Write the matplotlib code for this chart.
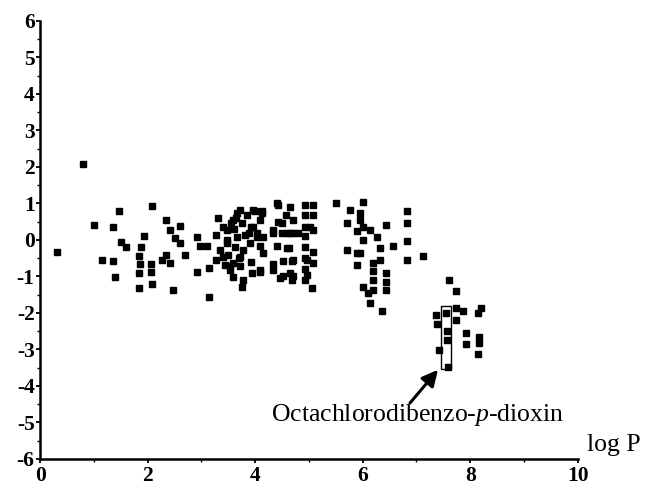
import matplotlib.pyplot as plt
from matplotlib.patches import Rectangle

plt.rcParams['font.family'] = 'Liberation Serif'
plt.rcParams['mathtext.fontset'] = 'custom'
plt.rcParams['mathtext.rm'] = 'Liberation Serif'
plt.rcParams['mathtext.it'] = 'Liberation Serif:italic'
plt.rcParams['axes.unicode_minus'] = False

# compounds (x = log P, y = response)
logp_low = [0.31, 0.79, 1.01, 1.15, 1.36, 1.36, 1.39, 1.47, 1.51, 1.59,
            1.83, 1.83, 1.84, 1.86, 1.88, 1.94, 2.06, 2.06, 2.08, 2.08,
            2.26, 2.34, 2.35, 2.42, 2.42, 2.48, 2.51, 2.60, 2.60, 2.70,
            2.91, 2.91, 2.97, 3.10, 3.15, 3.15]
y_low = [-0.34, 2.08, 0.40, -0.55, 0.35, -0.58, -1.01, 0.80, -0.07, -0.20,
         -0.44, -0.91, -1.31, -0.67, -0.21, 0.11, -0.67, -0.88, 0.94, -1.21,
         -0.55, 0.55, -0.41, 0.27, -0.64, -1.37, 0.05, 0.39, -0.09, -0.41,
         0.09, -0.87, -0.18, -0.16, -0.76, -1.57]

logp_mid = [3.28, 3.28, 3.31, 3.35, 3.41, 3.41, 3.44, 3.47, 3.47, 3.47,
            3.50, 3.53, 3.53, 3.59, 3.59, 3.59, 3.60, 3.62, 3.66, 3.66,
            3.72, 3.72, 3.72, 3.75, 3.75, 3.78, 3.78, 3.81, 3.84, 3.90,
            3.92, 3.93, 3.96, 3.96, 4.00, 4.03, 4.03, 4.09, 4.09, 4.09,
            4.09, 4.12, 4.13, 4.15, 4.15, 3.65, 3.70, 3.88, 3.95, 3.55]
y_mid = [0.14, -0.55, 0.59, -0.27, 0.36, -0.46, -0.68, 0.27, -0.09, 0.00,
         -0.41, -0.73, -0.82, 0.55, -0.64, -1.01, 0.30, -0.20, 0.09, 0.73,
         0.82, -0.46, -0.73, 0.46, -1.28, -0.27, -1.10, 0.14, 0.68, -0.10,
         -0.60, 0.36, 0.82, 0.36, 0.78, 0.09, 0.18, -0.18, -0.82, -0.87,
         0.55, 0.74, 0.78, -0.36, 0.09, 0.60, -0.50, 0.20, -0.90, 0.45]

logp_high = [4.33, 4.34, 4.34, 4.34, 4.40, 4.40, 4.43, 4.43, 4.46, 4.49,
             4.49, 4.52, 4.52, 4.58, 4.59, 4.59, 4.62, 4.65, 4.65, 4.65,
             4.68, 4.68, 4.70, 4.70, 4.71, 4.71, 4.80, 4.93, 4.93, 4.93,
             4.93, 4.93, 4.93, 4.93, 4.93, 4.96, 4.96, 5.02, 5.05, 5.08,
             5.08, 5.08, 5.08, 5.08, 5.51, 5.70, 5.70, 5.76, 5.89, 5.89,
             5.89, 5.95, 5.95, 5.95, 6.00, 6.00, 6.01, 6.01, 6.10, 6.13,
             6.13, 6.19, 6.19, 6.19, 6.19, 6.26, 6.32, 6.32, 6.35, 6.44,
             6.44, 6.44, 6.44, 6.57, 6.82, 6.82, 6.82, 6.82, 7.12]
y_high = [0.27, -0.67, 0.18, -0.82, 1.01, -0.18, 0.50, 0.96, -1.05, 0.46,
          0.18, -0.59, -1.00, 0.68, 0.19, -0.23, -0.23, -0.91, 0.91, 0.18,
          -0.59, -1.10, 0.55, 0.19, -0.55, -1.00, 0.18, 0.95, 0.68, 0.36,
          0.10, -0.20, -0.50, -0.80, -1.10, -0.55, -0.96, 0.36, -1.32, 0.96,
          0.68, 0.27, -0.32, -0.64, 1.01, 0.47, -0.27, 0.82, 0.23, -0.36,
          -0.68, 0.74, 0.55, -0.36, 0.36, 0.00, 1.03, -1.28, -1.46, 0.27,
          -1.73, -0.63, -0.85, -1.10, -1.37, 0.09, -0.23, -0.55, -1.96, 0.41,
          -0.90, -1.15, -1.37, -0.18, 0.78, 0.46, -0.03, -0.55, -0.44]

logp_dioxins = [7.60, 7.73, 7.54, 7.56, 7.56, 7.59, 7.37, 7.38, 7.42, 7.73,
                7.86, 7.73, 8.20, 8.15, 7.92, 7.93, 8.16, 8.16, 8.15]
y_dioxins = [-1.11, -1.39, -2.01, -2.51, -2.74, -3.47, -2.05, -2.30, -3.03, -1.87,
             -1.96, -2.19, -1.87, -2.01, -2.54, -2.85, -2.67, -2.83, -3.12]

logp = logp_low + logp_mid + logp_high + logp_dioxins
yvals = y_low + y_mid + y_high + y_dioxins

fig = plt.figure(figsize=(6.47, 4.95), dpi=100)
ax = fig.add_axes([0.062, 0.073, 0.831, 0.885])

ax.plot(logp, yvals, 's', color='black', markersize=4.3, linestyle='none')

# box around octachlorodibenzo-p-dioxin
ax.add_patch(Rectangle((7.45, -3.54), 0.19, 1.74, fill=False,
                       edgecolor='black', linewidth=1.0))
ax.annotate('', xy=(7.40, -3.56), xytext=(6.88, -4.47),
            arrowprops=dict(arrowstyle='-|>', color='black', lw=2.2,
                            mutation_scale=24, shrinkA=0, shrinkB=0))
ax.text(7.03, -4.80, 'Octachlorodibenzo-$p$-dioxin', ha='center',
        va='center', fontsize=18.5)

ax.set_xlim(0, 10)
ax.set_ylim(-6, 6)
ax.set_xticks(range(0, 11, 2))
ax.set_xticks(range(0, 11), minor=True)
ax.set_yticks(range(-6, 7))
ax.set_yticks([v / 2 for v in range(-12, 13)], minor=True)
ax.tick_params(which='major', direction='out', length=3, width=1.3,
               labelsize=15.5, pad=2)
ax.tick_params(which='minor', direction='out', length=2, width=1.0)
ax.tick_params(axis='y', pad=1)
for lbl in ax.get_xticklabels() + ax.get_yticklabels():
    lbl.set_fontweight('bold')

for side in ['top', 'right']:
    ax.spines[side].set_visible(False)
for side in ['left', 'bottom']:
    ax.spines[side].set_linewidth(1.8)

ax.text(1.017, 0.032, 'log P', transform=ax.transAxes, fontsize=18.5,
        ha='left', va='center')

fig.savefig('out.png', dpi=100)
